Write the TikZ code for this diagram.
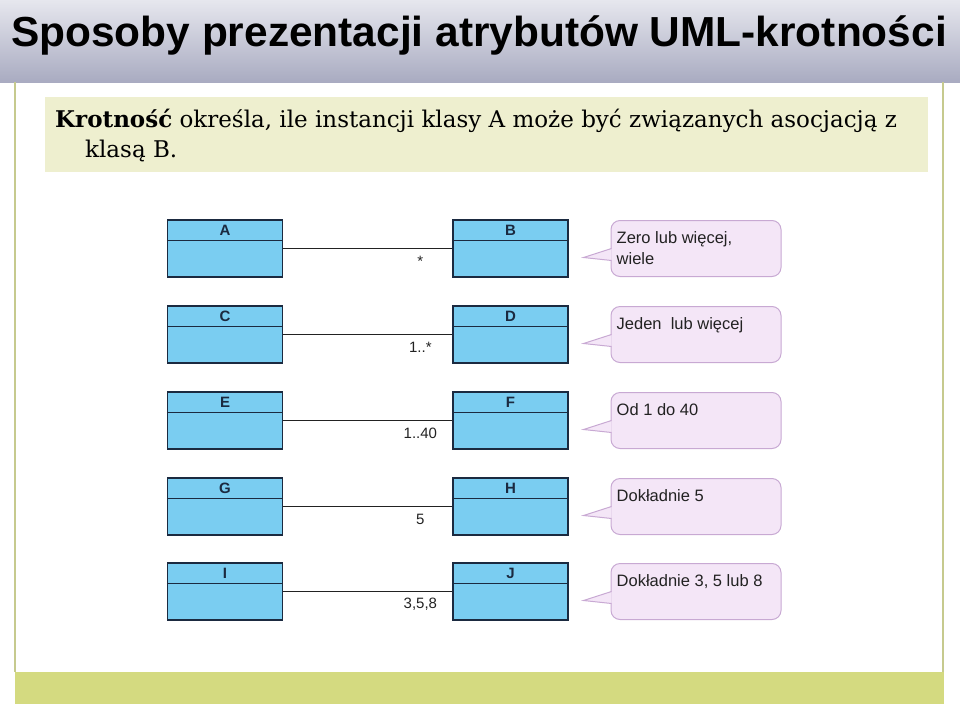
\documentclass[tikz,border=0pt]{standalone}
\usepackage{fontspec}
\setmainfont{DejaVu Serif}
\newfontfamily\tytulfont[FakeStretch=1.01]{Liberation Sans}
\newfontfamily\umlfont{Liberation Sans}
\definecolor{naglowekgora}{HTML}{E6E7EE}
\definecolor{naglowekdol}{HTML}{A9ABC1}
\definecolor{oliwka}{HTML}{C6CA8E}
\definecolor{pasek}{HTML}{D4DA80}
\definecolor{zolty}{HTML}{EEEFCF}
\definecolor{niebieski}{HTML}{7ACDF1}
\definecolor{granat}{HTML}{1B2A40}
\definecolor{lila}{HTML}{F4E6F7}
\definecolor{lilaramka}{HTML}{C8A9D3}
\definecolor{szary}{HTML}{222222}
\begin{document}
\begin{tikzpicture}[x=1pt,y=-1pt,
    klasa/.style={draw=granat,fill=niebieski,line width=1.3pt,minimum width=115pt,minimum height=57pt,inner sep=0pt},
    litera/.style={font=\umlfont\bfseries\fontsize{15}{17}\selectfont,text=granat},
    dymek/.style={draw=lilaramka,fill=lila,line width=1pt,rounded corners=9pt,minimum width=170pt,minimum height=56pt,inner sep=0pt},
    opis/.style={font=\umlfont\fontsize{16.5}{21}\selectfont,text=szary,align=left,anchor=north west,inner sep=0pt},
    krotnosc/.style={font=\umlfont\fontsize{15}{17}\selectfont,text=szary}]
    \useasboundingbox (0,0) rectangle (960,707);
    %naglowek slajdu
    \shade[top color=naglowekgora,bottom color=naglowekdol] (0,0) rectangle (960,82);
    \node[font=\tytulfont\bfseries\fontsize{42}{46}\selectfont] (tytul) at (479,35) {Sposoby prezentacji atrybutów UML-krotności};
    %ramka slajdu i pasek na dole
    \draw[oliwka,line width=1.5pt] (15,82) -- (15,672) (943,82) -- (943,672);
    \fill[pasek] (15,672) rectangle (944,704);
    %definicja krotnosci
    \node[fill=zolty,minimum width=883pt,minimum height=75pt,anchor=north west,inner sep=0pt] (ramka) at (45,97) {};
    \node[anchor=north west,align=left,inner sep=0pt,font=\fontsize{23}{30}\selectfont] (definicja) at (55,109)
        {\textbf{Krotność} określa, ile instancji klasy A może być związanych asocjacją z\\\hspace*{30pt}klasą B.};
    %klasy, asocjacje i dymki
    \foreach \l/\r/\k/\y/\t in {A/B/{*}/248.5/{Zero lub więcej,\\wiele},
                                C/D/{1..*}/334.5/{Jeden\ \ lub więcej},
                                E/F/{1..40}/420.5/{Od 1 do 40},
                                G/H/{5}/506.5/{Dokładnie 5},
                                I/J/{3,5,8}/591.5/{Dokładnie 3, 5 lub 8}}{
        \node[klasa] (\l) at (225,\y) {};
        \node[klasa] (\r) at (510.5,\y) {};
        \node[litera] (\l t) at ([yshift=-11pt]\l.north) {\l};
        \node[litera] (\r t) at ([yshift=-11pt]\r.north) {\r};
        \draw[granat,line width=1.3pt] ([yshift=-21pt]\l.north west) -- ([yshift=-21pt]\l.north east);
        \draw[granat,line width=1.3pt] ([yshift=-21pt]\r.north west) -- ([yshift=-21pt]\r.north east);
        %asocjacja
        \draw[szary,line width=1pt] (\l.east) -- (\r.west);
        \node[krotnosc] (k\l) at ([xshift=-32pt,yshift=-13pt]\r.west) {\k};
        %dymek
        \node[dymek] (d\l) at (696,\y) {};
        \filldraw[fill=lila,draw=lilaramka,line width=1pt] ([xshift=1pt]d\l.west) -- ([xshift=-27pt,yshift=-9pt]d\l.west) -- ([xshift=1pt,yshift=-12pt]d\l.west);
        \node[opis] (o\l) at ([xshift=6pt,yshift=-11pt]d\l.north west) {\t};
    }
\end{tikzpicture}
\end{document}
